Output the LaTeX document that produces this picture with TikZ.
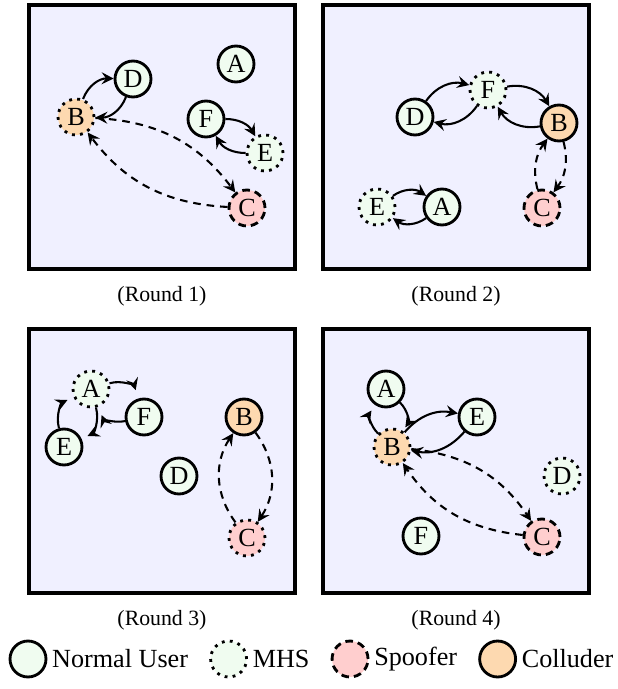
\documentclass[tikz,border=0pt]{standalone}
\usepackage{fontspec}
\setmainfont{Liberation Serif}
\usetikzlibrary{arrows.meta, positioning}
\definecolor{panelbg}{RGB}{240,240,255}
\definecolor{userfill}{RGB}{240,252,240}
\definecolor{spooffill}{RGB}{255,206,206}
\definecolor{collfill}{RGB}{253,217,176}

\begin{document}
\begin{tikzpicture}[x = 0.4587pt, y = 0.4587pt,
	panel/.style = {draw, line width = 1.4pt, fill = panelbg},
	peer/.style = {circle, draw, line width = 1.3pt, minimum size = 16.5pt, inner sep = 0pt, font = \large},
	user/.style = {peer, fill = userfill},
	spoof/.style = {peer, fill = spooffill},
	coll/.style = {peer, fill = collfill},
	mhsline/.style = {dash pattern = on 1.3pt off 2.4pt},
	spoofline/.style = {dash pattern = on 3.5pt off 2.3pt},
	link/.style = {line width = 0.95pt, -{Stealth[length = 5.5pt, width = 5.5pt, inset = 2pt]}, bend left = 30},
	fake/.style = {link, dash pattern = on 3.5pt off 2.7pt, bend left = 25},
	legendtext/.style = {inner sep = 0pt, font = \large}]
	\useasboundingbox (0, 0) rectangle (617, -689);
	
	\draw[panel] (29, -5) rectangle (295, -269);
	\node[user] (a1) at (236, -64) {A};
	\node[coll, mhsline] (b1) at (76, -117) {B};
	\node[spoof, spoofline] (c1) at (247, -208) {C};
	\node[user] (d1) at (133, -79) {D};
	\node[user, mhsline] (e1) at (265, -153) {E};
	\node[user] (f1) at (206, -119) {F};
	\draw[link, bend left = 35] (b1) to (d1);
	\draw[link, bend left = 35] (d1) to (b1);
	\draw[fake] (b1) to (c1);
	\draw[fake] (c1) to (b1);
	\draw[link] (f1) to (e1);
	\draw[link] (e1) to (f1);
	\node (cap1) at (162, -296) {(Round 1)};
	
	\draw[panel] (323, -5) rectangle (589, -269);
	\node[user] (a2) at (442, -207) {A};
	\node[coll] (b2) at (559, -123) {B};
	\node[spoof, spoofline] (c2) at (542, -208) {C};
	\node[user] (d2) at (415, -117) {D};
	\node[user, mhsline] (e2) at (377, -207) {E};
	\node[user, mhsline] (f2) at (488, -90) {F};
	\draw[link, bend left = 35] (d2) to (f2);
	\draw[link, bend left = 35] (f2) to (d2);
	\draw[link, bend left = 35] (f2) to (b2);
	\draw[link, bend left = 35] (b2) to (f2);
	\draw[fake] (b2) to (c2);
	\draw[fake] (c2) to (b2);
	\draw[link, bend left = 35] (e2) to (a2);
	\draw[link, bend left = 35] (a2) to (e2);
	\node (cap2) at (456, -296) {(Round 2)};
	
	\draw[panel] (29, -329) rectangle (295, -593);
	\node[user, mhsline] (a3) at (91, -389) {A};
	\node[coll] (b3) at (244, -417) {B};
	\node[spoof, mhsline] (c3) at (247, -538) {C};
	\node[user] (d3) at (179, -476) {D};
	\node[user] (e3) at (64, -447) {E};
	\node[user] (f3) at (144, -417) {F};
	\draw[link, bend left = 45, shorten > = 4pt] (a3) to (f3);
	\draw[link, bend left = 40, shorten > = 4pt] (f3) to (a3);
	\draw[link, bend left = 40, shorten > = 3pt] (e3) to (a3);
	\draw[link, bend left = 40, shorten > = 3pt] (a3) to (e3);
	\draw[fake, bend left = 35] (b3) to (c3);
	\draw[fake, bend left = 35] (c3) to (b3);
	\node (cap3) at (162, -620) {(Round 3)};
	
	\draw[panel] (323, -329) rectangle (589, -593);
	\node[user] (a4) at (386, -389) {A};
	\node[coll, mhsline] (b4) at (392, -447) {B};
	\node[spoof, spoofline] (c4) at (542, -537) {C};
	\node[user, mhsline] (d4) at (562, -476) {D};
	\node[user] (e4) at (477, -417) {E};
	\node[user] (f4) at (421, -536) {F};
	\draw[link, bend left = 40, shorten > = 3pt] (b4) to (a4);
	\draw[link, bend left = 40, shorten > = 2pt] (a4) to (b4);
	\draw[link] (b4) to (e4);
	\draw[link] (e4) to (b4);
	\draw[fake] (b4) to (c4);
	\draw[fake] (c4) to (b4);
	\node (cap4) at (456, -620) {(Round 4)};
	
	\node[user] (lg1) at (28, -659) {};
	\node[legendtext, right = 2pt of lg1] (lt1) {Normal User};
	\node[user, mhsline, right = 9.5pt of lt1] (lg2) {};
	\node[legendtext, right = 2pt of lg2] (lt2) {MHS};
	\node[spoof, spoofline, right = 9.5pt of lt2] (lg3) {};
	\node[legendtext, right = 2pt of lg3] (lt3) {Spoofer};
	\node[coll, right = 9.5pt of lt3] (lg4) {};
	\node[legendtext, right = 2pt of lg4] (lt4) {Colluder};
\end{tikzpicture}
\end{document}
